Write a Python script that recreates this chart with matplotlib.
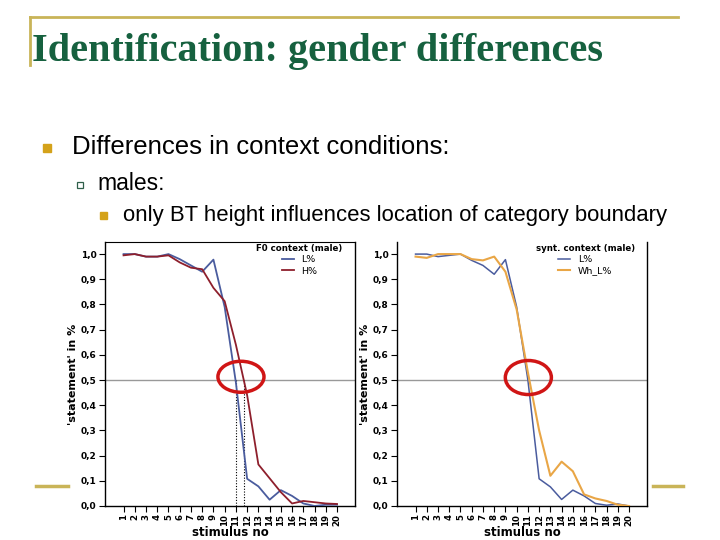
import numpy as np
import matplotlib
matplotlib.use("Agg")
import matplotlib.pyplot as plt
from matplotlib.patches import Ellipse

stimuli = list(range(1, 21))

# F0 context (male)
f0_L = [1.0, 1.0, 0.99, 0.99, 1.0, 0.98, 0.955, 0.93, 0.978, 0.79,
        0.49, 0.108, 0.078, 0.025, 0.063, 0.04, 0.01, 0.0, 0.005, 0.005]
f0_H = [0.995, 1.0, 0.99, 0.99, 0.995, 0.967, 0.946, 0.94, 0.866, 0.813,
        0.64, 0.44, 0.165, 0.11, 0.055, 0.01, 0.02, 0.015, 0.01, 0.008]

# synt. context (male)
syn_L = [1.0, 1.0, 0.99, 0.995, 1.0, 0.975, 0.955, 0.92, 0.978, 0.79,
         0.5, 0.108, 0.076, 0.026, 0.063, 0.04, 0.01, 0.003, 0.008, 0.0]
syn_WhL = [0.99, 0.985, 1.0, 1.0, 1.0, 0.98, 0.975, 0.99, 0.93, 0.78,
           0.53, 0.3, 0.12, 0.176, 0.138, 0.046, 0.03, 0.02, 0.005, 0.0]

ytick_vals = [0.0, 0.1, 0.2, 0.3, 0.4, 0.5, 0.6, 0.7, 0.8, 0.9, 1.0]

blue = "#4a5c9e"
red = "#8e1f2c"
orange = "#e9a646"
gold = "#c9b458"
green = "#16613f"


def crossing(xs, ys, level=0.5):
    for i in range(len(ys) - 1):
        if ys[i] >= level > ys[i + 1]:
            return xs[i] + (ys[i] - level) / (ys[i] - ys[i + 1])
    return None


def setup_axes(ax, top_spine):
    ax.set_xlim(-0.65, 21.6)
    ax.set_ylim(0, 1.048)
    ax.set_xticks(stimuli)
    ax.set_xticklabels([str(s) for s in stimuli], rotation=90,
                       fontsize=6.2, fontweight="bold")
    ax.set_yticks(ytick_vals)
    ax.set_yticklabels([f"{v:.1f}".replace(".", ",") for v in ytick_vals],
                       fontsize=6.5, fontweight="bold")
    ax.tick_params(direction="out", length=4, width=0.8, pad=2)
    ax.spines["top"].set_visible(top_spine)
    for s in ["left", "bottom", "right"]:
        ax.spines[s].set_linewidth(1.0)
    ax.axhline(0.5, color="#999999", lw=1.0, zorder=1)
    ax.set_xlabel("stimulus no", fontsize=8.5, fontweight="bold", labelpad=0)
    ax.set_ylabel("'statement' in %", fontsize=8, fontweight="bold", labelpad=2)


def add_legend(ax, title):
    leg = ax.legend(loc="upper right", bbox_to_anchor=(0.985, 1.025), frameon=False,
                    fontsize=6.8, handlelength=1.3, labelspacing=0.25,
                    title=title)
    leg.get_title().set_fontsize(6.2)
    leg.get_title().set_fontweight("bold")
    return leg


fig = plt.figure(figsize=(7.2, 5.4), dpi=100)
fig.patch.set_facecolor("white")

# slide decoration
fig.add_artist(plt.Line2D([30 / 720, 678 / 720], [1 - 17 / 540, 1 - 17 / 540],
                          color=gold, lw=2))
fig.add_artist(plt.Line2D([30 / 720, 30 / 720], [1 - 17 / 540, 1 - 65 / 540],
                          color=gold, lw=2))
fig.add_artist(plt.Line2D([36 / 720, 68 / 720], [1 - 486 / 540, 1 - 486 / 540],
                          color=gold, lw=2.5))
fig.add_artist(plt.Line2D([653 / 720, 683 / 720], [1 - 486 / 540, 1 - 486 / 540],
                          color=gold, lw=2.5))

fig.text(32 / 720, 1 - 51 / 540, "Identification: gender differences",
         family="Liberation Serif", fontweight="bold", fontsize=29,
         color=green, va="center", ha="left")

fig.patches.append(plt.Rectangle((43 / 720, 1 - 152 / 540), 8 / 720, 8 / 540,
                                 transform=fig.transFigure, color="#d4a21a"))
fig.text(72 / 720, 1 - 147 / 540, "Differences in context conditions:",
         family="Liberation Sans", fontsize=18.5, va="center", ha="left")
fig.patches.append(plt.Rectangle((77 / 720, 1 - 188 / 540), 6 / 720, 6 / 540,
                                 transform=fig.transFigure, facecolor="white",
                                 edgecolor="#2f5f4a", lw=0.9))
fig.text(97 / 720, 1 - 184 / 540, "males:",
         family="Liberation Sans", fontsize=16.5, va="center", ha="left")
fig.patches.append(plt.Rectangle((100 / 720, 1 - 219 / 540), 7 / 720, 7 / 540,
                                 transform=fig.transFigure, color="#d4a21a"))
fig.text(123 / 720, 1 - 215 / 540,
         "only BT height influences location of category boundary",
         family="Liberation Sans", fontsize=15.9, va="center", ha="left")

# left chart
ax1 = fig.add_axes([105 / 720, 1 - 506 / 540, 250 / 720, 264 / 540])
setup_axes(ax1, True)
ax1.plot(stimuli, f0_L, color=blue, lw=1.3, label="L%", zorder=3)
ax1.plot(stimuli, f0_H, color=red, lw=1.3, label="H%", zorder=3)
for series in (f0_L, f0_H):
    xc = crossing(stimuli, series)
    ax1.plot([xc, xc], [0, 0.5], color="black", lw=0.8, ls=(0, (1, 1.5)), zorder=2)
ax1.add_patch(Ellipse((11.45, 0.513), 4.1, 0.123, fill=False,
                      edgecolor="#d01515", lw=2.5, zorder=4))
add_legend(ax1, "F0 context (male)")

# right chart
ax2 = fig.add_axes([397 / 720, 1 - 506 / 540, 250 / 720, 264 / 540])
setup_axes(ax2, False)
ax2.plot(stimuli, syn_L, color=blue, lw=1.1, label="L%", zorder=3)
ax2.plot(stimuli, syn_WhL, color=orange, lw=1.5, label="Wh_L%", zorder=3)
ax2.add_patch(Ellipse((11.04, 0.51), 4.1, 0.135, fill=False,
                      edgecolor="#d01515", lw=2.5, zorder=4))
add_legend(ax2, "synt. context (male)")

fig.savefig("out.png", dpi=100, facecolor="white")
